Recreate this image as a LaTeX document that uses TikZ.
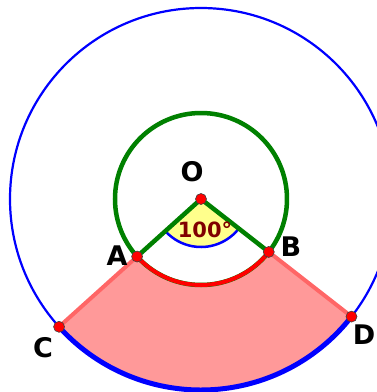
\documentclass[tikz,border=0pt]{standalone}
\usepackage{fontspec}
\setmainfont{DejaVu Sans}
\usetikzlibrary{calc}

\definecolor{ggblue}{RGB}{0,0,255}
\definecolor{gggreen}{RGB}{0,128,0}
\definecolor{ggred}{RGB}{255,0,0}
\definecolor{ggpink}{RGB}{255,153,153}
\definecolor{ggedge}{RGB}{255,102,102}
\definecolor{ggyellow}{RGB}{255,255,140}
\definecolor{ggmaroon}{RGB}{128,0,0}

\begin{document}
\begin{tikzpicture}[x=1pt,y=1pt,
 pnt/.style={circle,draw=black!75,line width=0.6pt,fill=ggred,inner sep=0pt,minimum size=11pt},
 lbl/.style={font=\fontsize{27}{27}\selectfont\bfseries,inner sep=0pt},
 ang/.style={font=\fontsize{21}{21}\selectfont\bfseries,text=ggmaroon,inner sep=0pt}]
\useasboundingbox (-201,-193) rectangle (176,199);
\clip (-201,-193) rectangle (176,199);
% points
\coordinate (O) at (0,0);
\coordinate (A) at (222:86);
\coordinate (B) at (322:86);
\coordinate (C) at (222:191);
\coordinate (D) at (322:191);
% outer circle and ring sector
\draw[ggblue,line width=2.2pt] (O) circle[radius=191pt];
\fill[ggpink] (A)--(C) arc[start angle=222,end angle=322,radius=191pt]--(B) arc[start angle=322,end angle=222,radius=86pt]--cycle;
\draw[ggedge,line width=4pt] (A)--(C); \draw[ggedge,line width=4pt] (B)--(D);
\draw[ggblue,line width=5pt] (C) arc[start angle=222,end angle=322,radius=191pt];
% inner circle
\draw[gggreen,line width=4.5pt] (O) circle[radius=86pt];
\draw[ggred,line width=4pt] (A) arc[start angle=222,end angle=322,radius=86pt];
% angle
\fill[ggyellow] (O)--(222:48) arc[start angle=222,end angle=322,radius=48pt]--cycle;
\draw[ggblue,line width=2.5pt] (222:48) arc[start angle=222,end angle=322,radius=48pt];
\draw[gggreen,line width=4.5pt] (A)--(O)--(B);
% dots and labels
\foreach \p in {O,A,B,C,D} \node[pnt] (n\p) at (\p) {};
\node[lbl] (lO) at ($(O)+(-9,27)$) {O};
\node[lbl] (lA) at ($(O)+(-84,-57)$) {A};
\node[lbl] (lB) at ($(O)+(90,-48)$) {B};
\node[lbl] (lC) at ($(O)+(-158,-149)$) {C};
\node[lbl] (lD) at ($(O)+(163,-136)$) {D};
\node[ang] (l100) at ($(O)+(4,-31)$) {100°};
\end{tikzpicture}
\end{document}
